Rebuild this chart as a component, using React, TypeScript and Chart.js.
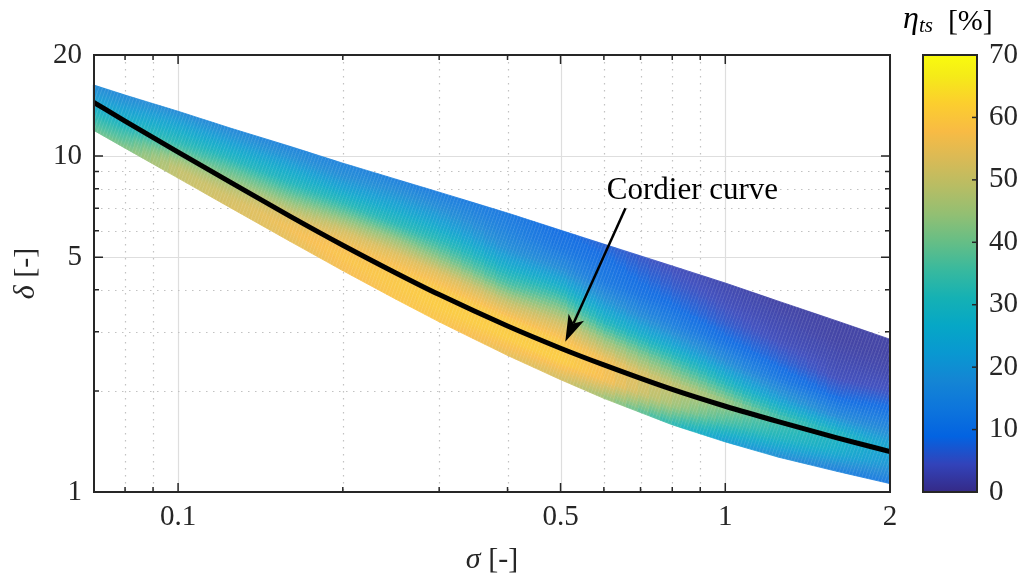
import React, { useEffect, useRef } from "react";
import { Chart, registerables } from "chart.js";

Chart.register(...registerables);

// ---------------- data ----------------
// band columns (sigma), band edges (delta) and efficiency across the band (top -> bottom, 9 rows)
const SIGMA_COLS = [0.07, 0.08, 0.1, 0.125, 0.16, 0.2, 0.25, 0.3, 0.4, 0.5, 0.6, 0.8, 1.0, 1.25, 1.6, 2.0];
const DELTA_TOP = [16.3, 15.2, 13.6, 12.1, 10.7, 9.53, 8.54, 7.81, 6.77, 6.02, 5.47, 4.71, 4.19, 3.7, 3.23, 2.85];
const DELTA_BOTTOM = [11.95, 10.56, 8.6, 7.0, 5.58, 4.56, 3.75, 3.21, 2.55, 2.16, 1.9, 1.585, 1.41, 1.27, 1.152, 1.059];
const ETA_COLUMNS = [
  [17, 19, 21, 24, 27, 30, 33, 36, 39],
  [17, 19, 22, 25, 28, 31, 35, 38, 42],
  [17, 21, 25, 29, 33, 40, 46, 50, 50],
  [16, 20, 25, 30, 37, 42, 48, 52, 53],
  [15, 19, 25, 30, 38, 46, 54, 57, 55],
  [15, 18, 24, 32, 42, 52, 57, 59, 57],
  [14, 19, 25, 32, 44, 54, 59, 60, 59],
  [13, 18, 24, 32, 42, 54, 60, 61, 59],
  [12, 14, 18, 26, 36, 50, 60, 61, 55],
  [9, 11, 17, 27, 40, 52, 60, 61, 52],
  [7, 10, 12, 20, 30, 45, 57, 58, 45],
  [4, 6, 9, 14, 24, 38, 50, 46, 32],
  [3, 4, 6, 10, 18, 30, 45, 36, 22],
  [2, 3, 4, 7, 12, 22, 36, 30, 18],
  [2, 2, 3, 4, 8, 16, 30, 26, 14],
  [2, 2, 3, 5, 10, 16, 24, 20, 12],
];

// Cordier curve
const CORDIER_SIGMA = [0.07, 0.08, 0.1, 0.125, 0.16, 0.2, 0.25, 0.3, 0.4, 0.5, 0.6, 0.8, 1.0, 1.25, 1.6, 2.0];
const CORDIER_DELTA = [14.48, 12.71, 10.28, 8.34, 6.63, 5.43, 4.49, 3.87, 3.12, 2.68, 2.39, 2.02, 1.8, 1.62, 1.45, 1.32];

// annotation (data coordinates)
const ANNOT_TEXT = "Cordier curve";
const ANNOT_TEXT_POS = { x: 0.871, y: 7.45 };
const ARROW_TAIL = { x: 0.657, y: 7.0 };
const ARROW_TIP = { x: 0.51, y: 2.8 };

// axes
const X_MIN = 0.0702;
const X_MAX = 2;
const Y_MIN = 1;
const Y_MAX = 20;
const X_TICKS = [0.08, 0.09, 0.1, 0.2, 0.3, 0.4, 0.5, 0.6, 0.7, 0.8, 0.9, 1, 2];
const X_LABELED = [0.1, 0.5, 1, 2];
const Y_TICKS = [1, 2, 3, 4, 5, 6, 7, 8, 9, 10, 20];
const Y_LABELED = [1, 5, 10, 20];
const CB_MIN = 0;
const CB_MAX = 70;
const CB_TICKS = [0, 10, 20, 30, 40, 50, 60, 70];

// parula colormap stops
const PARULA = [
  [53, 42, 135], [50, 67, 186], [3, 99, 225], [13, 117, 220], [20, 133, 212],
  [9, 152, 209], [6, 167, 198], [21, 177, 180], [56, 185, 158], [101, 190, 134],
  [146, 191, 115], [183, 189, 100], [217, 186, 86], [248, 187, 68], [252, 206, 46],
  [245, 235, 24], [249, 251, 14],
];
const PARULA_POS = [0, 4, 8, 12, 16, 20, 24, 28, 32, 36, 40, 44, 48, 52, 56, 60, 63].map((i) => i / 63);

const FONT = "'Liberation Serif', 'Times New Roman', serif";
const AXIS_COLOR = "#262626";

// ---------------- helpers ----------------
function parula(v: number, wash = 0): string {
  let f = (v - CB_MIN) / (CB_MAX - CB_MIN);
  f = Math.max(0, Math.min(1, f));
  let k = 0;
  while (k < PARULA_POS.length - 2 && f > PARULA_POS[k + 1]) k++;
  const t = (f - PARULA_POS[k]) / (PARULA_POS[k + 1] - PARULA_POS[k]);
  const c = [0, 1, 2].map((m) => PARULA[k][m] + (PARULA[k + 1][m] - PARULA[k][m]) * t);
  const w = c.map((ch) => Math.round(ch * (1 - wash) + 255 * wash));
  return `rgb(${w[0]},${w[1]},${w[2]})`;
}

type Seg = { text: string; font: string; dy?: number };
function drawSegs(ctx: CanvasRenderingContext2D, segs: Seg[], x: number, y: number, align: "center" | "left") {
  let total = 0;
  const widths = segs.map((s) => {
    ctx.font = s.font;
    const w = ctx.measureText(s.text).width;
    total += w;
    return w;
  });
  let cx = align === "center" ? x - total / 2 : x;
  segs.forEach((s, i) => {
    ctx.font = s.font;
    ctx.textAlign = "left";
    ctx.fillText(s.text, cx, y + (s.dy || 0));
    cx += widths[i];
  });
}

const fmt = (v: number) => String(v);

// ---------------- plugin ----------------
const drawPlugin = {
  id: "cordierDraw",
  beforeDatasetsDraw(chart: any) {
    const { ctx, chartArea: a, scales } = chart;
    const xs = scales.x;
    const ys = scales.y;
    ctx.save();
    // grid
    ctx.lineWidth = 1.2;
    for (const v of X_TICKS) {
      const px = Math.round(xs.getPixelForValue(v)) + 0.5;
      const major = X_LABELED.includes(v);
      ctx.strokeStyle = major ? "#dedede" : "#c2c2c2";
      ctx.setLineDash(major ? [] : [1.5, 5.5]);
      ctx.beginPath();
      ctx.moveTo(px, a.top);
      ctx.lineTo(px, a.bottom);
      ctx.stroke();
    }
    for (const v of Y_TICKS) {
      const py = Math.round(ys.getPixelForValue(v)) + 0.5;
      const major = Y_LABELED.includes(v);
      ctx.strokeStyle = major ? "#dedede" : "#c2c2c2";
      ctx.setLineDash(major ? [] : [1.5, 5.5]);
      ctx.beginPath();
      ctx.moveTo(a.left, py);
      ctx.lineTo(a.right, py);
      ctx.stroke();
    }
    ctx.setLineDash([]);
    // tick marks (inside)
    ctx.strokeStyle = AXIS_COLOR;
    ctx.lineWidth = 1.5;
    for (const v of X_TICKS) {
      const px = xs.getPixelForValue(v);
      const len = X_LABELED.includes(v) ? 9 : 5;
      ctx.beginPath();
      ctx.moveTo(px, a.bottom);
      ctx.lineTo(px, a.bottom - len);
      ctx.moveTo(px, a.top);
      ctx.lineTo(px, a.top + len);
      ctx.stroke();
    }
    for (const v of Y_TICKS) {
      const py = ys.getPixelForValue(v);
      const len = Y_LABELED.includes(v) ? 9 : 5;
      ctx.beginPath();
      ctx.moveTo(a.left, py);
      ctx.lineTo(a.left + len, py);
      ctx.moveTo(a.right, py);
      ctx.lineTo(a.right - len, py);
      ctx.stroke();
    }

    // efficiency band
    const px = SIGMA_COLS.map((s) => xs.getPixelForValue(s));
    const pt = DELTA_TOP.map((d) => ys.getPixelForValue(d));
    const pb = DELTA_BOTTOM.map((d) => ys.getPixelForValue(d));
    const nR = ETA_COLUMNS[0].length;
    const NS = 6;
    ctx.lineWidth = 0.8;
    for (let i = 0; i < SIGMA_COLS.length - 1; i++) {
      const P = (u: number, t: number) => {
        const x = px[i] + (px[i + 1] - px[i]) * u;
        const top = pt[i] + (pt[i + 1] - pt[i]) * u;
        const bot = pb[i] + (pb[i + 1] - pb[i]) * u;
        return [x, top + (bot - top) * t];
      };
      for (let j = 0; j < nR - 1; j++) {
        const e00 = ETA_COLUMNS[i][j];
        const e10 = ETA_COLUMNS[i + 1][j];
        const e01 = ETA_COLUMNS[i][j + 1];
        const e11 = ETA_COLUMNS[i + 1][j + 1];
        for (let aa = 0; aa < NS; aa++) {
          for (let bb = 0; bb < NS; bb++) {
            const u0 = aa / NS;
            const u1 = (aa + 1) / NS;
            const t0 = (j + bb / NS) / (nR - 1);
            const t1 = (j + (bb + 1) / NS) / (nR - 1);
            const uc = (aa + 0.5) / NS;
            const tc = (bb + 0.5) / NS;
            const v =
              e00 * (1 - uc) * (1 - tc) + e10 * uc * (1 - tc) + e01 * (1 - uc) * tc + e11 * uc * tc;
            const col = parula(v, 0.08);
            const p1 = P(u0, t0);
            const p2 = P(u1, t0);
            const p3 = P(u1, t1);
            const p4 = P(u0, t1);
            ctx.fillStyle = col;
            ctx.strokeStyle = col;
            ctx.beginPath();
            ctx.moveTo(p1[0], p1[1]);
            ctx.lineTo(p2[0], p2[1]);
            ctx.lineTo(p3[0], p3[1]);
            ctx.lineTo(p4[0], p4[1]);
            ctx.closePath();
            ctx.fill();
            ctx.stroke();
          }
        }
      }
    }
    // faint hatching texture clipped to the band outline
    ctx.save();
    ctx.beginPath();
    px.forEach((x, i) => (i === 0 ? ctx.moveTo(x, pt[i]) : ctx.lineTo(x, pt[i])));
    for (let i = px.length - 1; i >= 0; i--) ctx.lineTo(px[i], pb[i]);
    ctx.closePath();
    ctx.clip();
    ctx.strokeStyle = "rgba(255,255,255,0.13)";
    ctx.lineWidth = 1;
    ctx.beginPath();
    for (let x0 = a.left - 200; x0 < a.right + 50; x0 += 3.5) {
      ctx.moveTo(x0, a.bottom);
      ctx.lineTo(x0 + (a.bottom - a.top) * 0.36, a.top);
    }
    ctx.stroke();
    ctx.restore();
    ctx.restore();
  },
  afterDatasetsDraw(chart: any) {
    const { ctx, chartArea: a, scales } = chart;
    const xs = scales.x;
    const ys = scales.y;
    ctx.save();
    // axes box
    ctx.strokeStyle = AXIS_COLOR;
    ctx.lineWidth = 2;
    ctx.strokeRect(a.left, a.top, a.right - a.left, a.bottom - a.top);

    // annotation
    ctx.fillStyle = "#000";
    ctx.textBaseline = "alphabetic";
    ctx.font = `31px ${FONT}`;
    ctx.textAlign = "center";
    ctx.fillText(ANNOT_TEXT, xs.getPixelForValue(ANNOT_TEXT_POS.x), ys.getPixelForValue(ANNOT_TEXT_POS.y));
    const tx = xs.getPixelForValue(ARROW_TAIL.x);
    const ty = ys.getPixelForValue(ARROW_TAIL.y);
    const hx = xs.getPixelForValue(ARROW_TIP.x);
    const hy = ys.getPixelForValue(ARROW_TIP.y);
    const ang = Math.atan2(hy - ty, hx - tx);
    const L = 27;
    const W = 8.5;
    const notch = 20;
    const bx = hx - Math.cos(ang) * notch;
    const by = hy - Math.sin(ang) * notch;
    ctx.strokeStyle = "#000";
    ctx.lineWidth = 2.5;
    ctx.beginPath();
    ctx.moveTo(tx, ty);
    ctx.lineTo(bx, by);
    ctx.stroke();
    const cx = hx - Math.cos(ang) * L;
    const cy = hy - Math.sin(ang) * L;
    const nx = -Math.sin(ang);
    const ny = Math.cos(ang);
    ctx.beginPath();
    ctx.moveTo(hx, hy);
    ctx.lineTo(cx + nx * W, cy + ny * W);
    ctx.lineTo(bx, by);
    ctx.lineTo(cx - nx * W, cy - ny * W);
    ctx.closePath();
    ctx.fill();
    ctx.restore();
  },
  afterDraw(chart: any) {
    const { ctx, chartArea: a, scales } = chart;
    const cb = scales.cb;
    ctx.save();
    // colorbar
    const left = a.right + 33;
    const right = left + 54;
    const top = cb.getPixelForValue(CB_MAX);
    const bottom = cb.getPixelForValue(CB_MIN);
    const g = ctx.createLinearGradient(0, bottom, 0, top);
    PARULA.forEach((c, i) => g.addColorStop(PARULA_POS[i], `rgb(${c[0]},${c[1]},${c[2]})`));
    ctx.fillStyle = g;
    ctx.fillRect(left, top, right - left, bottom - top);
    ctx.strokeStyle = AXIS_COLOR;
    ctx.lineWidth = 1.5;
    for (const v of CB_TICKS) {
      const py = cb.getPixelForValue(v);
      ctx.beginPath();
      ctx.moveTo(right, py);
      ctx.lineTo(right - 5, py);
      ctx.stroke();
    }
    ctx.lineWidth = 2;
    ctx.strokeRect(left, top, right - left, bottom - top);

    // colorbar title
    ctx.fillStyle = "#000";
    ctx.textBaseline = "alphabetic";
    drawSegs(
      ctx,
      [
        { text: "η", font: `italic 32px ${FONT}` },
        { text: "ts", font: `italic 21px ${FONT}`, dy: 4 },
        { text: "  [%]", font: `30px ${FONT}`, dy: 2 },
      ],
      left - 20,
      28,
      "left"
    );

    // axis titles
    ctx.fillStyle = "#262626";
    ctx.textBaseline = "middle";
    drawSegs(
      ctx,
      [
        { text: "σ", font: `italic 30px ${FONT}` },
        { text: " [-]", font: `30px ${FONT}` },
      ],
      (a.left + a.right) / 2,
      560,
      "center"
    );
    ctx.save();
    ctx.translate(a.left - 68, (a.top + a.bottom) / 2);
    ctx.rotate(-Math.PI / 2);
    drawSegs(
      ctx,
      [
        { text: "δ", font: `italic 30px ${FONT}` },
        { text: " [-]", font: `30px ${FONT}` },
      ],
      0,
      0,
      "center"
    );
    ctx.restore();
    ctx.restore();
  },
};

// ---------------- component ----------------
export default function App() {
  const ref = useRef<HTMLCanvasElement>(null);
  useEffect(() => {
    const canvas = ref.current;
    if (!canvas) return;
    const tickFont = { family: FONT, size: 29 };
    const chart = new Chart(canvas, {
      type: "scatter",
      data: {
        datasets: [
          {
            label: "Cordier curve",
            data: CORDIER_SIGMA.map((s, i) => ({ x: s, y: CORDIER_DELTA[i] })),
            showLine: true,
            borderColor: "#000",
            borderWidth: 5,
            pointRadius: 0,
            cubicInterpolationMode: "monotone",
          } as any,
        ],
      },
      options: {
        responsive: false,
        animation: false,
        events: [],
        layout: { padding: { left: 0, right: 0, top: 55, bottom: 0 } },
        plugins: { legend: { display: false }, tooltip: { enabled: false } },
        scales: {
          x: {
            type: "logarithmic",
            position: "bottom",
            min: X_MIN,
            max: X_MAX,
            grid: { display: false, drawTicks: false },
            border: { display: false },
            afterBuildTicks: (s: any) => {
              s.ticks = X_TICKS.map((v) => ({ value: v }));
            },
            afterFit: (s: any) => {
              s.height = 89;
            },
            ticks: {
              autoSkip: false,
              maxRotation: 0,
              minRotation: 0,
              padding: 8,
              color: AXIS_COLOR,
              font: tickFont,
              callback: (v: any) => (X_LABELED.includes(Number(v)) ? fmt(Number(v)) : ""),
            },
          },
          y: {
            type: "logarithmic",
            position: "left",
            min: Y_MIN,
            max: Y_MAX,
            grid: { display: false, drawTicks: false },
            border: { display: false },
            afterBuildTicks: (s: any) => {
              s.ticks = Y_TICKS.map((v) => ({ value: v }));
            },
            afterFit: (s: any) => {
              s.width = 94;
              s.paddingTop = 0;
              s.paddingBottom = 0;
            },
            ticks: {
              autoSkip: false,
              padding: 12,
              color: AXIS_COLOR,
              font: tickFont,
              callback: (v: any) => (Y_LABELED.includes(Number(v)) ? fmt(Number(v)) : ""),
            },
          },
          cb: {
            type: "linear",
            position: "right",
            min: CB_MIN,
            max: CB_MAX,
            grid: { display: false, drawTicks: false },
            border: { display: false },
            afterBuildTicks: (s: any) => {
              s.ticks = CB_TICKS.map((v) => ({ value: v }));
            },
            afterFit: (s: any) => {
              s.width = 134;
              s.paddingTop = 0;
              s.paddingBottom = 0;
            },
            ticks: {
              autoSkip: false,
              padding: 99,
              color: AXIS_COLOR,
              font: tickFont,
              callback: (v: any) => fmt(Number(v)),
            },
          },
        } as any,
      },
      plugins: [drawPlugin],
    });
    return () => chart.destroy();
  }, []);
  return (
    <div style={{ position: "absolute", left: 0, top: 0, width: 1024, height: 581, background: "#fff" }}>
      <canvas ref={ref} width={1024} height={581} style={{ display: "block", width: 1024, height: 581 }} />
    </div>
  );
}
